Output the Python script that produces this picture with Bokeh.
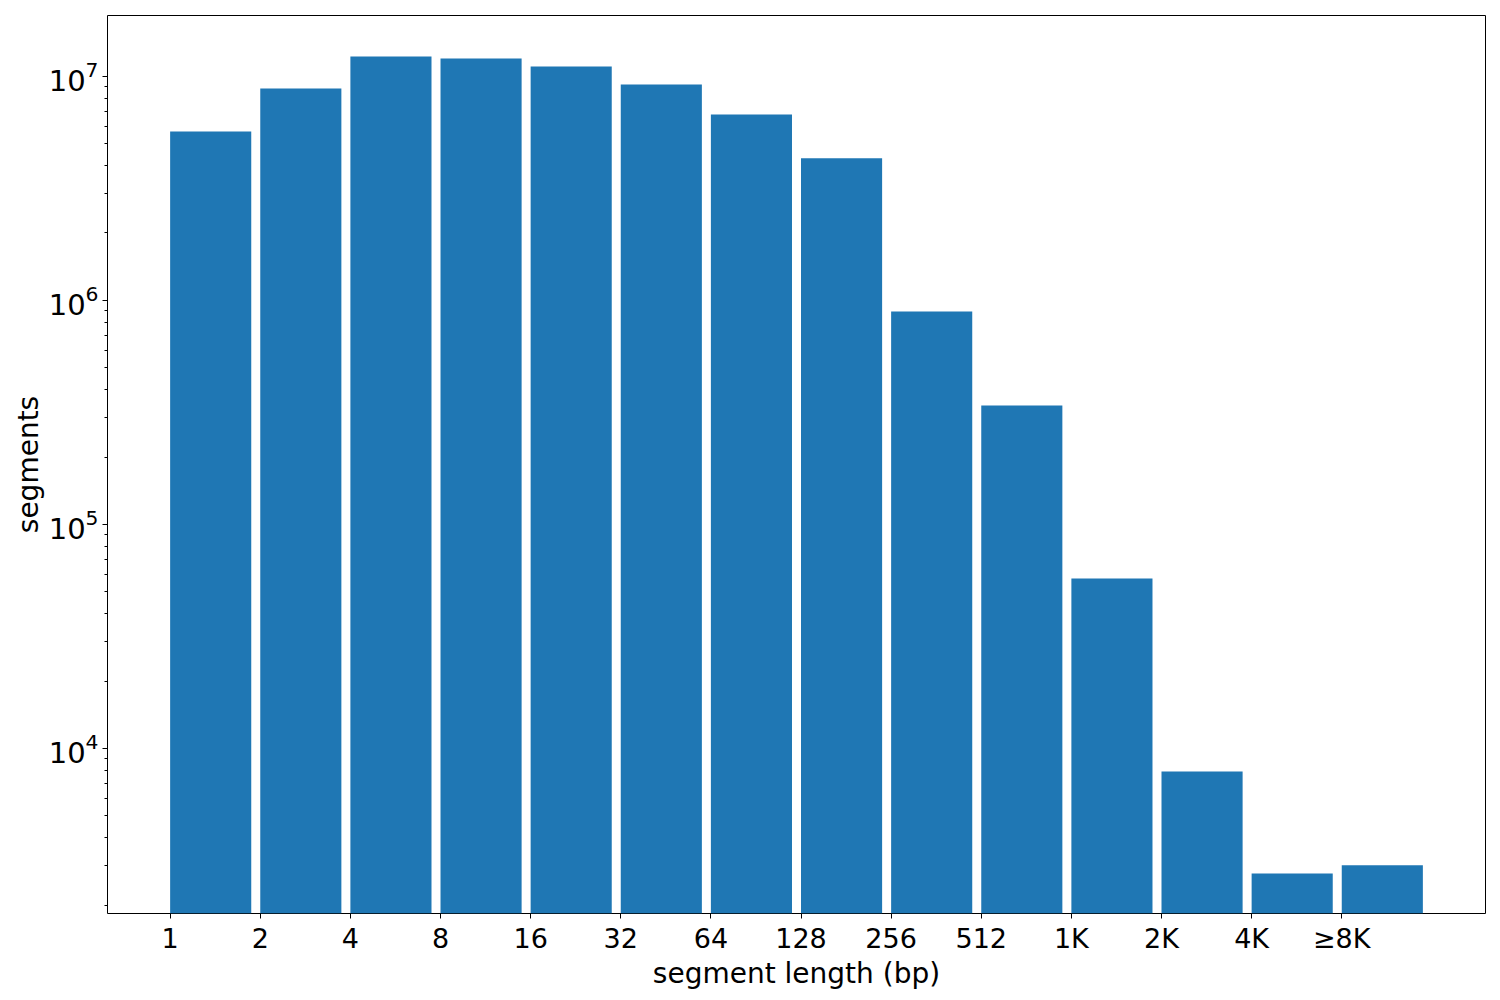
from bokeh.plotting import figure
from bokeh.models import ColumnDataSource, Range1d, FixedTicker, LogTicker
from bokeh.embed import file_html
from bokeh.resources import INLINE

categories = ["1", "2", "4", "8", "16", "32", "64", "128", "256", "512", "1K", "2K", "4K", "≥8K"]
segments = [5.68e6, 8.84e6, 1.228e7, 1.203e7, 1.108e7, 9.21e6, 6.76e6, 4.31e6,
            8.93e5, 3.40e5, 5.74e4, 7.89e3, 2.77e3, 3.01e3]

bar_width = 0.9
y_min, y_max = 1834, 1.87e7
positions = list(range(len(categories)))

src = ColumnDataSource(dict(
    left=positions,
    right=[p + bar_width for p in positions],
    top=segments,
    bottom=[y_min] * len(segments),
))

span = len(categories) - 1 + bar_width
margin = 0.05 * span
p = figure(width=1500, height=1000, y_axis_type="log",
           x_range=Range1d(-margin, span + margin),
           y_range=Range1d(y_min, y_max),
           output_backend="svg", toolbar_location=None,
           min_border_left=107, min_border_right=15,
           min_border_top=15, min_border_bottom=87)

p.quad(left="left", right="right", top="top", bottom="bottom", source=src,
       fill_color="#1f77b4", line_color=None)

p.xgrid.visible = False
p.ygrid.visible = False
p.outline_line_color = "black"
p.outline_line_width = 1
p.outline_line_alpha = 1

font = "DejaVu Sans"
for ax in (p.xaxis[0], p.yaxis[0]):
    ax.axis_line_color = None
    ax.major_label_text_font = font
    ax.major_label_text_font_size = "27px"
    ax.major_label_text_color = "black"
    ax.axis_label_text_font = font
    ax.axis_label_text_font_size = "28px"
    ax.axis_label_text_font_style = "normal"
    ax.axis_label_text_color = "black"
    ax.major_tick_line_color = "black"
    ax.major_tick_out = 5
    ax.major_tick_in = 0
    ax.major_label_standoff = 4

p.yaxis.major_label_text_font_size = "29px"

p.xaxis.ticker = FixedTicker(ticks=positions)
p.xaxis.major_label_overrides = {i: c for i, c in enumerate(categories)}
p.xaxis.minor_tick_line_color = None
p.xaxis.axis_label = "segment length (bp)"
p.xaxis.axis_label_standoff = 0

p.yaxis.ticker = LogTicker(num_minor_ticks=10)
p.yaxis.minor_tick_line_color = "black"
p.yaxis.minor_tick_out = 3
p.yaxis.minor_tick_in = 0
p.yaxis.axis_label = "segments"
p.yaxis.axis_label_standoff = 1

open("out.html", "w").write(file_html(p, INLINE))
